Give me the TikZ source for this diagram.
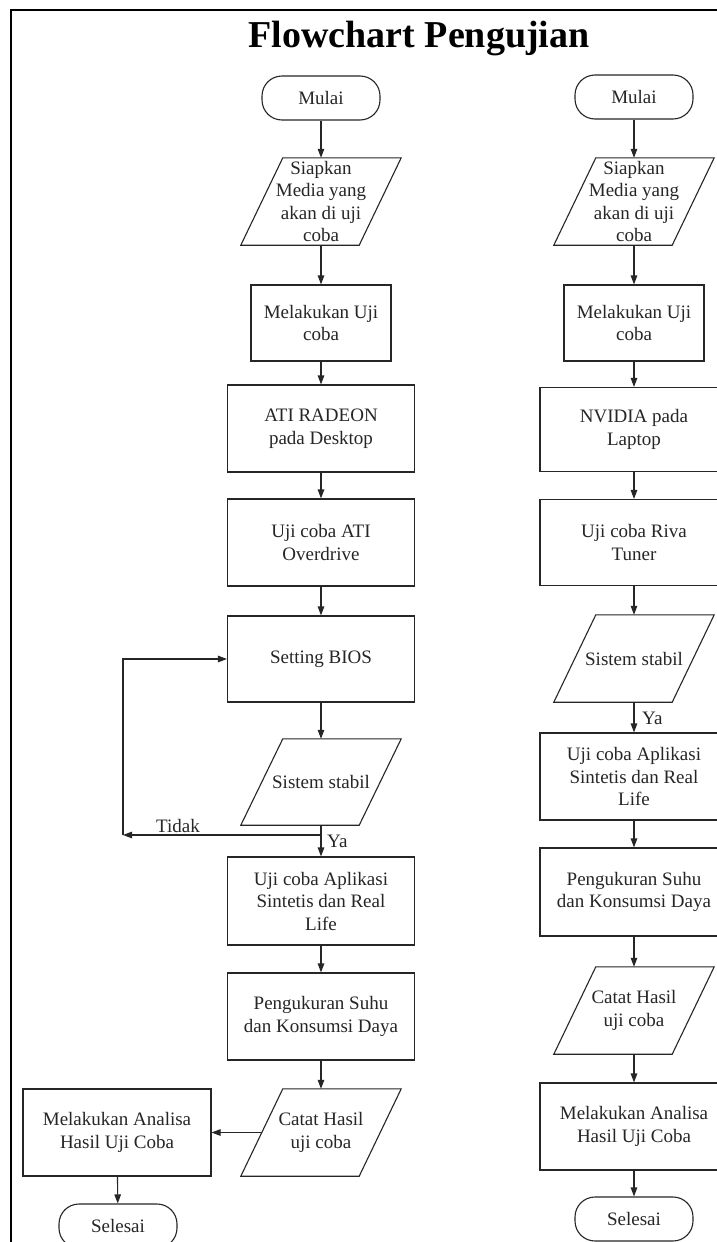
\documentclass[tikz,border=0pt]{standalone}
\usepackage{fontspec}
\setmainfont{Liberation Serif}
\usetikzlibrary{arrows.meta}
\newcommand\drawpara[1]{\draw[draw=black!85,line width=1.1pt] ([xshift=21pt]#1.north west) -- ([xshift=21pt]#1.north east) -- ([xshift=-21pt]#1.south east) -- ([xshift=-21pt]#1.south west) -- cycle;}
\begin{document}
\begin{tikzpicture}[x=1pt,y=-1pt,
  txt/.style={align=center, font=\fontsize{19}{22.5}\selectfont, text=black!85, inner sep=0pt},
  base/.style={txt, draw=black!85, line width=1.1pt},
  term/.style={base, rectangle, rounded corners=20pt, minimum width=118pt, minimum height=44pt},
  proc/.style={base, rectangle, minimum width=187pt, minimum height=87pt},
  para/.style={txt, rectangle, minimum width=118pt, minimum height=87pt},
  conn/.style={draw=black!85, line width=1.1pt, -{Triangle[length=9pt,width=6.5pt]}},
  lbl/.style={font=\fontsize{19}{22}\selectfont, text=black!85, inner sep=0pt},
]
\useasboundingbox (0,0) rectangle (717,1242);
\clip (0,0) rectangle (717,1242);
\fill[white] (0,0) rectangle (717,1242);
% frame
\draw[line width=2.5pt] (11,1270) -- (11,10) -- (740,10);
% title
\node[font=\bfseries\fontsize{38}{40}\selectfont, anchor=base, inner sep=0pt] (title) at (419,47) {Flowchart Pengujian};

% ---------- left column ----------
\node[term] (startL) at (321,98) {Mulai};
\node[para] (prepL) at (321,201.5) {Siapkan\\Media yang\\akan di uji\\coba};
\drawpara{prepL}
\node[proc, minimum width=140pt, minimum height=76pt] (ujiL) at (321,323) {Melakukan Uji\\coba};
\node[proc] (atiL) at (321,428.5) {ATI RADEON\\pada Desktop};
\node[proc] (odL) at (321,542.5) {Uji coba ATI\\Overdrive};
\node[proc, minimum height=86pt] (biosL) at (321,659) {Setting BIOS};
\node[para, minimum height=86pt] (stabL) at (321,782) {Sistem stabil};
\drawpara{stabL}
\node[proc, minimum height=88pt] (aplL) at (321,901) {Uji coba Aplikasi\\Sintetis dan Real\\Life};
\node[proc] (ukurL) at (321,1016.5) {Pengukuran Suhu\\dan Konsumsi Daya};
\node[para] (catatL) at (321,1132.5) {Catat Hasil\\uji coba};
\drawpara{catatL}
\node[proc, minimum width=188pt] (analL) at (117,1132.5) {Melakukan Analisa\\Hasil Uji Coba};
\node[term] (endL) at (118,1226) {Selesai};

\coordinate (splitL) at (321,835);
\coordinate (loopL) at (123,835);

\draw[conn] (startL) -- (prepL);
\draw[conn] (prepL) -- (ujiL);
\draw[conn] (ujiL) -- (atiL);
\draw[conn] (atiL) -- (odL);
\draw[conn] (odL) -- (biosL);
\draw[conn] (biosL) -- (stabL);
\draw[conn] (stabL) -- (aplL);
\draw[conn] (splitL) -- (loopL);
\draw[conn] (loopL) |- (biosL.west);
\draw[conn] (aplL) -- (ukurL);
\draw[conn] (ukurL) -- (catatL);
\draw[conn] (catatL.west) -- (analL.east);
\draw[conn] (analL) -- (endL);
\node[lbl, anchor=west] (yaL) at (327,841) {Ya};
\node[lbl] (tidakL) at (178,826) {Tidak};

% ---------- right column ----------
\node[term] (startR) at (634,97) {Mulai};
\node[para] (prepR) at (634,201.5) {Siapkan\\Media yang\\akan di uji\\coba};
\drawpara{prepR}
\node[proc, minimum width=140pt, minimum height=76pt] (ujiR) at (634,323) {Melakukan Uji\\coba};
\node[proc, minimum width=188pt, minimum height=84pt] (nvR) at (634,429.5) {NVIDIA pada\\Laptop};
\node[proc, minimum width=188pt, minimum height=86pt] (rivaR) at (634,542.5) {Uji coba Riva\\Tuner};
\node[para] (stabR) at (634,658.5) {Sistem stabil};
\drawpara{stabR}
\node[proc, minimum width=188pt] (aplR) at (634,776.5) {Uji coba Aplikasi\\Sintetis dan Real\\Life};
\node[proc, minimum width=188pt, minimum height=88pt] (ukurR) at (634,892) {Pengukuran Suhu\\dan Konsumsi Daya};
\node[para] (catatR) at (634,1010.5) {Catat Hasil\\uji coba};
\drawpara{catatR}
\node[proc, minimum width=188pt] (analR) at (634,1126.5) {Melakukan Analisa\\Hasil Uji Coba};
\node[term] (endR) at (634,1219) {Selesai};

\draw[conn] (startR) -- (prepR);
\draw[conn] (prepR) -- (ujiR);
\draw[conn] (ujiR) -- (nvR);
\draw[conn] (nvR) -- (rivaR);
\draw[conn] (rivaR) -- (stabR);
\draw[conn] (stabR) -- (aplR);
\draw[conn] (aplR) -- (ukurR);
\draw[conn] (ukurR) -- (catatR);
\draw[conn] (catatR) -- (analR);
\draw[conn] (analR) -- (endR);
\node[lbl, anchor=west] (yaR) at (642,718) {Ya};
\end{tikzpicture}
\end{document}
